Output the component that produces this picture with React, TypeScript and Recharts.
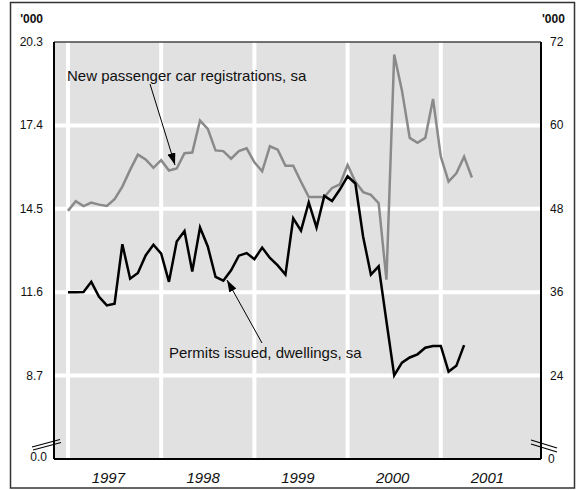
import { LineChart, Line, XAxis, YAxis, ReferenceLine, ReferenceArea } from 'recharts';

// monthly, index 0 = first month of 1997
const carRegs = [
  47.7, 49.1, 48.4, 48.9, 48.6, 48.4, 49.4, 51.2, 53.6, 55.8, 55.1, 53.9,
  55.0, 53.5, 53.8, 56.0, 56.1, 60.7, 59.5, 56.4, 56.3, 55.2, 56.3, 56.7,
  54.7, 53.4, 57.0, 56.5, 54.2, 54.2, 51.9, 49.7, 49.7, 49.7, 51.0, 51.5,
  54.3, 51.9, 50.4, 50.0, 48.8, 37.8, 70.2, 65.0, 58.2, 57.5, 58.2, 63.8,
  55.5, 51.9, 53.1, 55.5, 52.5,
];
const permits = [
  11.6, 11.6, 11.61, 11.96, 11.44, 11.14, 11.2, 13.27, 12.07, 12.27, 12.88, 13.25,
  12.94, 11.96, 13.36, 13.73, 12.32, 13.85, 13.19, 12.13, 12.0, 12.36, 12.87, 12.96,
  12.75, 13.15, 12.79, 12.53, 12.21, 14.17, 13.74, 14.72, 13.85, 14.95, 14.77, 15.17,
  15.63, 15.38, 13.53, 12.21, 12.5, 10.59, 8.71, 9.15, 9.33, 9.44, 9.67, 9.73,
  9.73, 8.84, 9.04, 9.76,
];

const yearLabels = ['1997', '1998', '1999', '2000', '2001'];
const yearTicks = [5.2, 17.4, 29.6, 41.8, 54.0];
const yearStarts = [0, 12, 24, 36, 48];
const leftTicks = [5.8, 8.7, 11.6, 14.5, 17.4, 20.3];
const rightTicks = [12, 24, 36, 48, 60, 72];

const data = carRegs.map((v, i) => ({
  m: i,
  cars: v,
  permits: i < permits.length ? permits[i] : null,
}));

const font = '"Liberation Sans", Arial, sans-serif';
const bg = '#e1e1e1';

function LeftTick({ x, y, payload }: any) {
  const bottom = payload.value === leftTicks[0];
  return (
    <text x={bottom ? x + 4 : x} y={bottom ? y - 2 : y} textAnchor="end" dominantBaseline="central"
      fontSize={12} fill="#111" fontFamily={font}>
      {bottom ? '0.0' : payload.value.toFixed(1)}
    </text>
  );
}

function RightTick({ x, y, payload }: any) {
  const bottom = payload.value === rightTicks[0];
  return (
    <text x={bottom ? x - 2 : x} y={y} textAnchor="start" dominantBaseline="central"
      fontSize={12} fill="#111" fontFamily={font}>
      {bottom ? '0' : payload.value}
    </text>
  );
}

export default function App() {
  return (
    <div style={{ position: 'absolute', left: 0, top: 0, width: 576, height: 490, background: '#fff', fontFamily: font }}>
      <LineChart width={576} height={490} data={data} margin={{ top: 42, right: 0, bottom: 0, left: 0 }}>
        <XAxis
          dataKey="m"
          type="number"
          domain={[-1.8, 60.9]}
          ticks={yearTicks}
          tickFormatter={(v) => yearLabels[yearTicks.indexOf(v)]}
          tickLine={false}
          tickSize={0}
          tickMargin={13}
          height={31}
          axisLine={{ stroke: '#000', strokeWidth: 2 }}
          tick={{ fontSize: 15, fontStyle: 'italic', fill: '#111', fontFamily: font }}
          interval={0}
        />
        <YAxis
          yAxisId="left"
          orientation="left"
          width={54}
          domain={[5.8, 20.3]}
          ticks={leftTicks}
          tickLine={false}
          tickSize={0}
          tickMargin={11}
          axisLine={{ stroke: '#000', strokeWidth: 2 }}
          tick={<LeftTick />}
          interval={0}
        />
        <YAxis
          yAxisId="right"
          orientation="right"
          width={35}
          domain={[12, 72]}
          ticks={rightTicks}
          tickLine={false}
          tickSize={0}
          tickMargin={9}
          axisLine={{ stroke: '#000', strokeWidth: 2 }}
          tick={<RightTick />}
          interval={0}
        />
        <ReferenceArea yAxisId="left" x1={-1.8} x2={60.9} y1={5.8} y2={20.3} fill={bg} fillOpacity={1} stroke="none" />
        {leftTicks.slice(1, 5).map((t) => (
          <ReferenceLine key={'h' + t} yAxisId="left" y={t} stroke="#fff" strokeWidth={4} />
        ))}
        {yearStarts.map((t) => (
          <ReferenceLine key={'v' + t} yAxisId="left" x={t} stroke="#fff" strokeWidth={4} />
        ))}
        <ReferenceLine yAxisId="left" y={20.3} stroke="#444" strokeWidth={1.5} />
        <Line yAxisId="right" dataKey="cars" stroke="#8a8a8a" strokeWidth={2.5} dot={false} isAnimationActive={false} />
        <Line yAxisId="left" dataKey="permits" stroke="#000" strokeWidth={2.5} dot={false} isAnimationActive={false} />
      </LineChart>

      <svg width={576} height={490} style={{ position: 'absolute', left: 0, top: 0, pointerEvents: 'none' }}>
        <defs>
          <marker id="ah" viewBox="0 0 12 8" refX="12" refY="4" markerWidth="12" markerHeight="8"
            markerUnits="userSpaceOnUse" orient="auto">
            <path d="M0,0 L12,4 L0,8 z" fill="#000" />
          </marker>
        </defs>
        <rect x={10.5} y={2.5} width={564} height={485.5} fill="none" stroke="#333" strokeWidth={1.5} />
        <text x={43} y={23} textAnchor="end" fontSize={12} fontWeight="bold" fill="#111">'000</text>
        <text x={542} y={23} textAnchor="start" fontSize={12} fontWeight="bold" fill="#111">'000</text>

        <text x={67} y={81} fontSize={15} fill="#111">New passenger car registrations, sa</text>
        <line x1={150} y1={84} x2={175} y2={165} stroke="#000" strokeWidth={1} markerEnd="url(#ah)" />
        <text x={169} y={358} fontSize={15} fill="#111">Permits issued, dwellings, sa</text>
        <line x1={262} y1={343} x2={227} y2={280} stroke="#000" strokeWidth={1} markerEnd="url(#ah)" />

        <line x1={32} y1={447} x2={60} y2={439.5} stroke="#000" strokeWidth={1.2} />
        <line x1={33} y1={450} x2={61} y2={442.5} stroke="#000" strokeWidth={1.2} />
        <line x1={531} y1={440} x2={557} y2={448} stroke="#000" strokeWidth={1.2} />
        <line x1={531} y1={444} x2={557} y2={452} stroke="#000" strokeWidth={1.2} />
      </svg>
    </div>
  );
}
